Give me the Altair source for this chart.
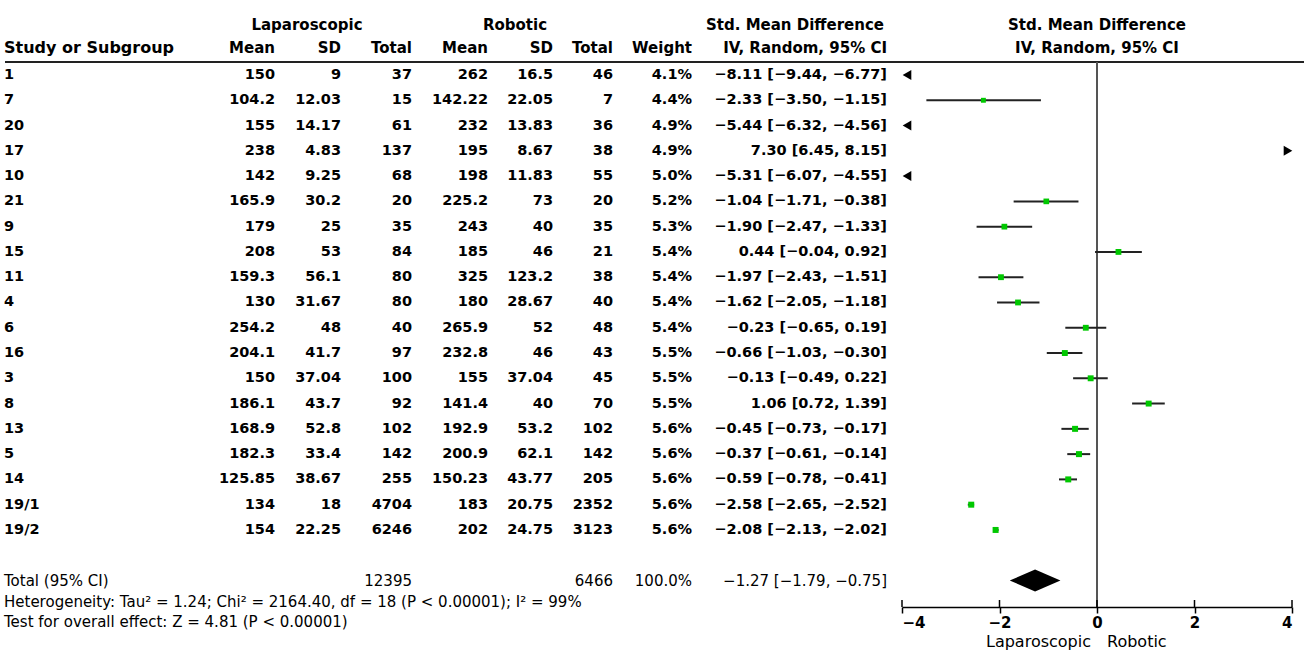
import altair as alt
import pandas as pd

FONT = "DejaVu Sans"

# ---- study-level data -------------------------------------------------------
studies = ["1", "7", "20", "17", "10", "21", "9", "15", "11", "4", "6", "16",
           "3", "8", "13", "5", "14", "19/1", "19/2"]
lap_mean = ["150", "104.2", "155", "238", "142", "165.9", "179", "208", "159.3",
            "130", "254.2", "204.1", "150", "186.1", "168.9", "182.3", "125.85",
            "134", "154"]
lap_sd = ["9", "12.03", "14.17", "4.83", "9.25", "30.2", "25", "53", "56.1",
          "31.67", "48", "41.7", "37.04", "43.7", "52.8", "33.4", "38.67", "18",
          "22.25"]
lap_n = [37, 15, 61, 137, 68, 20, 35, 84, 80, 80, 40, 97, 100, 92, 102, 142,
         255, 4704, 6246]
rob_mean = ["262", "142.22", "232", "195", "198", "225.2", "243", "185", "325",
            "180", "265.9", "232.8", "155", "141.4", "192.9", "200.9", "150.23",
            "183", "202"]
rob_sd = ["16.5", "22.05", "13.83", "8.67", "11.83", "73", "40", "46", "123.2",
          "28.67", "52", "46", "37.04", "40", "53.2", "62.1", "43.77", "20.75",
          "24.75"]
rob_n = [46, 7, 36, 38, 55, 20, 35, 21, 38, 40, 48, 43, 45, 70, 102, 142, 205,
         2352, 3123]
weight = [4.1, 4.4, 4.9, 4.9, 5.0, 5.2, 5.3, 5.4, 5.4, 5.4, 5.4, 5.5, 5.5, 5.5,
          5.6, 5.6, 5.6, 5.6, 5.6]
smd = [-8.11, -2.33, -5.44, 7.30, -5.31, -1.04, -1.90, 0.44, -1.97, -1.62,
       -0.23, -0.66, -0.13, 1.06, -0.45, -0.37, -0.59, -2.58, -2.08]
ci_lo = [-9.44, -3.50, -6.32, 6.45, -6.07, -1.71, -2.47, -0.04, -2.43, -2.05,
         -0.65, -1.03, -0.49, 0.72, -0.73, -0.61, -0.78, -2.65, -2.13]
ci_hi = [-6.77, -1.15, -4.56, 8.15, -4.55, -0.38, -1.33, 0.92, -1.51, -1.18,
         0.19, -0.30, 0.22, 1.39, -0.17, -0.14, -0.41, -2.52, -2.02]

# ---- pooled result ----------------------------------------------------------
total_lap_n = 12395
total_rob_n = 6466
total_weight = 100.0
total_smd, total_lo, total_hi = -1.27, -1.79, -0.75

heterogeneity = ("Heterogeneity: Tau\u00b2 = 1.24; Chi\u00b2 = 2164.40, df = 18 "
                 "(P < 0.00001); I\u00b2 = 99%")
overall = "Test for overall effect: Z = 4.81 (P < 0.00001)"

axis_ticks = [-4, -2, 0, 2, 4]
X_MIN, X_MAX = -4, 4


def num(v):
    return f"{v:.2f}".replace("-", "\u2212")


def ci_label(e, lo, hi):
    return f"{num(e)} [{num(lo)}, {num(hi)}]"


rows = pd.DataFrame({
    "row": list(range(len(studies))),
    "study": studies,
    "lap_mean": lap_mean, "lap_sd": lap_sd, "lap_n": [str(v) for v in lap_n],
    "rob_mean": rob_mean, "rob_sd": rob_sd, "rob_n": [str(v) for v in rob_n],
    "w_txt": [f"{w:.1f}%" for w in weight],
    "ci_txt": [ci_label(e, l, h) for e, l, h in zip(smd, ci_lo, ci_hi)],
    "weight": weight, "smd": smd, "lo": ci_lo, "hi": ci_hi,
})
rows["lo_c"] = rows["lo"].clip(lower=X_MIN)
rows["hi_c"] = rows["hi"].clip(upper=X_MAX)

TOTAL_ROW = len(studies) + 1
total = pd.DataFrame({
    "row": [TOTAL_ROW], "label": ["Total (95% CI)"],
    "lap_n": [str(total_lap_n)], "rob_n": [str(total_rob_n)],
    "w_txt": [f"{total_weight:.1f}%"],
    "ci_txt": [ci_label(total_smd, total_lo, total_hi)],
})

# diamond for the pooled estimate, drawn as an area between y and y2
HALF = 0.44
diamond = pd.DataFrame({
    "x": [total_lo, total_smd, total_hi],
    "y": [TOTAL_ROW, TOTAL_ROW - HALF, TOTAL_ROW],
    "y2": [TOTAL_ROW, TOTAL_ROW + HALF, TOTAL_ROW],
})
ticks_df = pd.DataFrame({"v": axis_ticks})
one = pd.DataFrame({"k": [0]})

# ---- scales -----------------------------------------------------------------
yscale = alt.Scale(domain=[0, TOTAL_ROW], range=[75, 580.5], nice=False, zero=False)
xscale = alt.Scale(domain=[X_MIN, X_MAX], range=[902, 1292], nice=False, zero=False)
xaxis = alt.Axis(values=axis_ticks, title=None, grid=False, domainColor="black",
                 domainWidth=1.5, tickColor="black", tickWidth=1.5, tickSize=6,
                 labelFont=FONT, labelFontSize=15, labelFontWeight="bold",
                 labelColor="black", labelPadding=2, labelFlush=True, format="d")


def X(field):
    return alt.X(field, type="quantitative", scale=xscale, axis=xaxis)


def Y(field):
    return alt.Y(field, type="quantitative", scale=yscale, axis=None)


def column(data, field, x, weight="bold", align="right", size=14.5):
    return alt.Chart(data).mark_text(
        align=align, baseline="middle", font=FONT, fontSize=size,
        fontWeight=weight, color="black"
    ).encode(x=alt.value(x), y=Y("row"), text=alt.Text(f"{field}:N"))


def label(txt, x, y, align="right", weight="bold", size=15):
    return alt.Chart(one).mark_text(
        text=txt, align=align, baseline="middle", font=FONT, fontSize=size,
        fontWeight=weight, color="black"
    ).encode(x=alt.value(x), y=alt.value(y))


# column right edges (pixels) for the table part
C_LM, C_LSD, C_LN = 275, 341, 412
C_RM, C_RSD, C_RN = 488, 553, 613
C_W, C_CI = 692, 887
ZERO_PX = 1097

layers = [
    # headers
    label("Laparoscopic", 307, 25, align="center"),
    label("Robotic", 515, 25, align="center"),
    label("Std. Mean Difference", 884, 25),
    label("Std. Mean Difference", ZERO_PX, 25, align="center"),
    label("Study or Subgroup", 4, 48, align="left", size=16),
    label("Mean", C_LM, 48), label("SD", C_LSD, 48), label("Total", C_LN, 48),
    label("Mean", C_RM, 48), label("SD", C_RSD, 48), label("Total", C_RN, 48),
    label("Weight", C_W, 48), label("IV, Random, 95% CI", C_CI, 48),
    label("IV, Random, 95% CI", ZERO_PX, 48, align="center"),
    # rule under the header
    alt.Chart(one).mark_rule(color="#222", strokeWidth=2).encode(
        x=alt.value(5), x2=alt.value(1304), y=alt.value(62)),
    # study rows
    column(rows, "study", 4, align="left"),
    column(rows, "lap_mean", C_LM), column(rows, "lap_sd", C_LSD),
    column(rows, "lap_n", C_LN),
    column(rows, "rob_mean", C_RM), column(rows, "rob_sd", C_RSD),
    column(rows, "rob_n", C_RN),
    column(rows, "w_txt", C_W), column(rows, "ci_txt", C_CI),
    # pooled row
    column(total, "label", 4, weight="normal", align="left", size=15),
    column(total, "lap_n", C_LN, weight="normal", size=15),
    column(total, "rob_n", C_RN, weight="normal", size=15),
    column(total, "w_txt", C_W, weight="normal", size=15),
    column(total, "ci_txt", C_CI, weight="normal", size=15),
    label(heterogeneity, 4, 602, align="left", weight="normal", size=15),
    label(overall, 4, 622, align="left", weight="normal", size=15),
    # line of no effect
    alt.Chart(one).mark_rule(color="#555", strokeWidth=2).encode(
        x=alt.X(datum=0, type="quantitative", scale=xscale, axis=xaxis),
        y=alt.value(62), y2=alt.value(607)),
    # upper half of the axis ticks
    alt.Chart(ticks_df).mark_rule(color="black", strokeWidth=1.5).encode(
        x=X("v"), y=alt.value(600), y2=alt.value(607)),
    # confidence intervals (clipped to the axis range)
    alt.Chart(rows).transform_filter("datum.lo_c < datum.hi_c").mark_rule(
        color="#222", strokeWidth=2).encode(x=X("lo_c"), x2="hi_c", y=Y("row")),
    # point estimates
    alt.Chart(rows).transform_filter(
        f"datum.smd >= {X_MIN} && datum.smd <= {X_MAX}").mark_square(
        color="#00c800", opacity=1).encode(
        x=X("smd"), y=Y("row"),
        size=alt.Size("weight:Q", scale=alt.Scale(domain=[4, 5.6], range=[20, 36]),
                      legend=None)),
    # off-scale arrows
    alt.Chart(rows).transform_filter(f"datum.hi < {X_MIN}").transform_calculate(
        edge=f"{X_MIN}").mark_point(
        shape="triangle-left", filled=True, color="black", size=100, xOffset=5,
        opacity=1).encode(x=X("edge:Q"), y=Y("row")),
    alt.Chart(rows).transform_filter(f"datum.lo > {X_MAX}").transform_calculate(
        edge=f"{X_MAX}").mark_point(
        shape="triangle-right", filled=True, color="black", size=100, xOffset=-4,
        opacity=1).encode(x=X("edge:Q"), y=Y("row")),
    # pooled diamond
    alt.Chart(diamond).mark_area(color="black", orient="vertical").encode(
        x=X("x"), y=Y("y"), y2="y2"),
    # favours labels
    label("Laparoscopic", ZERO_PX - 6, 642, align="right", weight="normal", size=16),
    label("Robotic", ZERO_PX + 10, 642, align="left", weight="normal", size=16),
]

chart = alt.layer(*layers).properties(
    width=1304, height=607, autosize="none",
    padding={"left": 0, "top": 0, "right": 0, "bottom": 43},
    background="white",
).configure_view(stroke=None)

chart.save("out.html", embed_options={"renderer": "svg", "actions": False})
